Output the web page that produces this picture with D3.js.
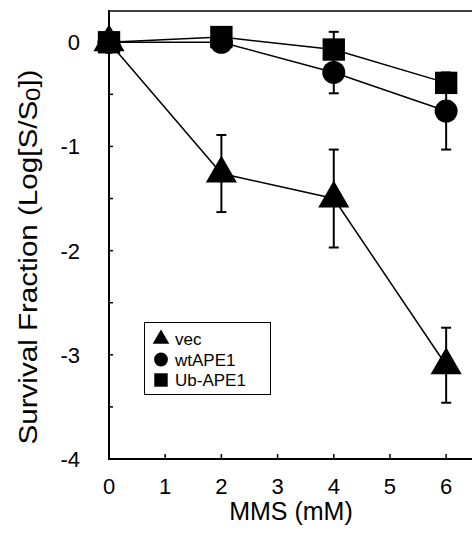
<!DOCTYPE html>
<html>
<head>
<meta charset="utf-8">
<script src="https://cdn.jsdelivr.net/npm/d3@7"></script>
<style>
  body { margin: 0; background: #fff; }
  text { font-family: "Liberation Sans", Arial, Helvetica, sans-serif; fill: #000; }
</style>
</head>
<body>
<div id="chart"></div>
<script>
// MMS dose (mM)
var doses = [0, 2, 4, 6];
// mean log survival per strain
var vecMean = [0, -1.26, -1.5, -3.1];
var vecErr = [0, 0.37, 0.47, 0.36];
var wtMean = [0, 0, -0.29, -0.66];
var wtErr = [0, 0, 0.2, 0.37];
var ubMean = [0, 0.05, -0.07, -0.39];
var ubErr = [0, 0, 0.17, 0.06];
var seriesNames = ["vec", "wtAPE1", "Ub-APE1"];
var xTicks = [0, 1, 2, 3, 4, 5, 6];
var yTicks = [0, -1, -2, -3, -4];

var W = 472, H = 534;
var svg = d3.select("#chart").append("svg")
  .attr("width", W).attr("height", H);

var x = d3.scaleLinear().domain([0, 6.46]).range([109, 472]);
var y = d3.scaleLinear().domain([-4, 0.3]).range([459, 11]);

// axes frame: left + bottom + top line (right side is cut off)
svg.append("line").attr("x1", x(0)).attr("x2", x(0)).attr("y1", y(0.3) - 1).attr("y2", y(-4) + 1)
  .attr("stroke", "#000").attr("stroke-width", 2);
svg.append("line").attr("x1", x(0) - 1).attr("x2", W).attr("y1", y(-4)).attr("y2", y(-4))
  .attr("stroke", "#000").attr("stroke-width", 2);
svg.append("line").attr("x1", x(0)).attr("x2", W).attr("y1", y(0.3)).attr("y2", y(0.3))
  .attr("stroke", "#000").attr("stroke-width", 1.5);

// y ticks (inward), major + half-unit minor
var yAll = d3.range(-4, 0.01, 0.5);
svg.selectAll(".ytick").data(yAll).enter().append("line")
  .attr("x1", x(0)).attr("x2", x(0) + 4)
  .attr("y1", function(d) { return y(d); }).attr("y2", function(d) { return y(d); })
  .attr("stroke", "#000").attr("stroke-width", 1.5);
svg.selectAll(".ylab").data(yTicks).enter().append("text")
  .attr("x", 80).attr("y", function(d) { return y(d) + 8; })
  .attr("text-anchor", "end").style("font-size", "22px")
  .text(function(d) { return d; });

// x ticks (inward)
svg.selectAll(".xtick").data(xTicks.slice(1)).enter().append("line")
  .attr("x1", function(d) { return x(d); }).attr("x2", function(d) { return x(d); })
  .attr("y1", y(-4)).attr("y2", y(-4) - 5)
  .attr("stroke", "#000").attr("stroke-width", 1.5);
svg.selectAll(".xlab").data(xTicks).enter().append("text")
  .attr("x", function(d) { return x(d); }).attr("y", 494)
  .attr("text-anchor", "middle").style("font-size", "22px")
  .text(function(d) { return d; });

// axis titles
svg.append("text").attr("x", 291).attr("y", 520)
  .attr("text-anchor", "middle").style("font-size", "25px").text("MMS (mM)");
var yt = svg.append("text")
  .attr("transform", "translate(37," + 257 + ") rotate(-90)")
  .attr("text-anchor", "middle").style("font-size", "26px")
  .attr("textLength", 375).attr("lengthAdjust", "spacingAndGlyphs");
yt.append("tspan").text("Survival Fraction (Log[S/S");
yt.append("tspan").attr("dy", 3).style("font-size", "21px").text("0");
yt.append("tspan").attr("dy", -3).text("])");

var series = [
  { name: seriesNames[1], mean: wtMean, err: wtErr, sym: d3.symbolCircle, size: 415 },
  { name: seriesNames[2], mean: ubMean, err: ubErr, sym: d3.symbolSquare, size: 500 },
  { name: seriesNames[0], mean: vecMean, err: vecErr, sym: d3.symbolTriangle, size: 420 }
];

var line = d3.line()
  .x(function(d) { return x(d[0]); })
  .y(function(d) { return y(d[1]); });

series.forEach(function(s) {
  var pts = doses.map(function(d, i) { return [d, s.mean[i], s.err[i]]; });
  svg.append("path").datum(pts).attr("d", line)
    .attr("fill", "none").attr("stroke", "#000").attr("stroke-width", 1.5);
});

series.forEach(function(s) {
  var pts = doses.map(function(d, i) { return [d, s.mean[i], s.err[i]]; })
    .filter(function(p) { return p[2] > 0; });
  var g = svg.append("g").attr("stroke", "#000").attr("stroke-width", 2);
  g.selectAll(".v").data(pts).enter().append("line")
    .attr("x1", function(d) { return x(d[0]); }).attr("x2", function(d) { return x(d[0]); })
    .attr("y1", function(d) { return y(d[1] + d[2]); }).attr("y2", function(d) { return y(d[1] - d[2]); });
  g.selectAll(".t").data(pts).enter().append("line")
    .attr("x1", function(d) { return x(d[0]) - 5; }).attr("x2", function(d) { return x(d[0]) + 5; })
    .attr("y1", function(d) { return y(d[1] + d[2]); }).attr("y2", function(d) { return y(d[1] + d[2]); });
  g.selectAll(".b").data(pts).enter().append("line")
    .attr("x1", function(d) { return x(d[0]) - 5; }).attr("x2", function(d) { return x(d[0]) + 5; })
    .attr("y1", function(d) { return y(d[1] - d[2]); }).attr("y2", function(d) { return y(d[1] - d[2]); });
});

series.forEach(function(s) {
  var pts = doses.map(function(d, i) { return [d, s.mean[i]]; });
  svg.selectAll(null).data(pts).enter().append("path")
    .attr("d", d3.symbol().type(s.sym).size(s.size))
    .attr("transform", function(d) { return "translate(" + x(d[0]) + "," + y(d[1]) + ")"; })
    .attr("fill", "#000");
});

// legend
var lg = svg.append("g");
lg.append("rect").attr("x", 144.5).attr("y", 322.5).attr("width", 126).attr("height", 72)
  .attr("fill", "#fff").attr("stroke", "#000").attr("stroke-width", 1);
var legendItems = [
  { name: seriesNames[0], sym: d3.symbolTriangle, size: 120 },
  { name: seriesNames[1], sym: d3.symbolCircle, size: 150 },
  { name: seriesNames[2], sym: d3.symbolSquare, size: 180 }
];
legendItems.forEach(function(it, i) {
  var cy = 339 + i * 20.5;
  lg.append("path").attr("d", d3.symbol().type(it.sym).size(it.size))
    .attr("transform", "translate(161," + cy + ")").attr("fill", "#000");
  lg.append("text").attr("x", 175).attr("y", cy + 6).style("font-size", "17px").text(it.name);
});
</script>
</body>
</html>
